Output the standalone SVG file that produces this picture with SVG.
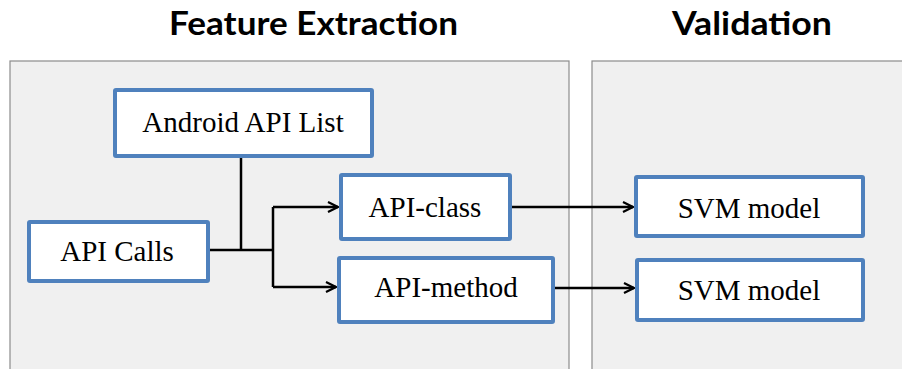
<svg xmlns="http://www.w3.org/2000/svg" width="902" height="369" viewBox="0 0 902 369">
  <style>
    .panel { fill: #f0f0f0; stroke: #8c8c8c; stroke-width: 1.2; }
    .title { font-family: Lato, "Liberation Sans", sans-serif; font-weight: bold; font-size: 32px; fill: #000; }
    .box { fill: #ffffff; stroke: #4f81bd; stroke-width: 4; }
    .label { font-family: "Liberation Serif", "Times New Roman", Times, serif; font-size: 29px; fill: #000; text-anchor: middle; }
    .wire { fill: none; stroke: #000; stroke-width: 2.5; }
  </style>
  <defs>
    <marker id="arrow" viewBox="0 0 12 12" refX="11" refY="6" markerWidth="12" markerHeight="12" markerUnits="userSpaceOnUse" orient="auto">
      <path d="M1,1 L11,6 L1,11" fill="none" stroke="#000" stroke-width="2.2" stroke-linejoin="miter"/>
    </marker>
  </defs>

  <rect width="902" height="369" fill="#ffffff"/>

  <!-- stage panels -->
  <g id="panel-feature">
    <rect class="panel" x="10" y="61" width="559" height="320"/>
    <text class="title" x="169" y="35" textLength="289" lengthAdjust="spacingAndGlyphs">Feature Extraction</text>
  </g>
  <g id="panel-validation">
    <rect class="panel" x="592" y="61" width="320" height="320"/>
    <text class="title" x="672" y="35" textLength="160" lengthAdjust="spacingAndGlyphs">Validation</text>
  </g>

  <!-- connectors -->
  <g id="connectors">
    <path class="wire" d="M241,156 V250"/>
    <path class="wire" d="M208,250 H273"/>
    <path class="wire" d="M273,207 V287"/>
    <path class="wire" d="M273,207 H338" marker-end="url(#arrow)"/>
    <path class="wire" d="M273,287 H336" marker-end="url(#arrow)"/>
    <path class="wire" d="M510,207 H633" marker-end="url(#arrow)"/>
    <path class="wire" d="M553,288 H634" marker-end="url(#arrow)"/>
  </g>

  <!-- nodes -->
  <g id="android-api-list">
    <rect class="box" x="115" y="90" width="257" height="66" rx="1"/>
    <text class="label" x="243" y="132">Android API List</text>
  </g>
  <g id="api-calls">
    <rect class="box" x="29" y="222" width="179" height="59" rx="1"/>
    <text class="label" x="117" y="261">API Calls</text>
  </g>
  <g id="api-class">
    <rect class="box" x="341" y="175" width="169" height="64" rx="1"/>
    <text class="label" x="425" y="217">API-class</text>
  </g>
  <g id="api-method">
    <rect class="box" x="339" y="258" width="214" height="64" rx="1"/>
    <text class="label" x="446" y="297">API-method</text>
  </g>
  <g id="svm-model-1">
    <rect class="box" x="636" y="177" width="227" height="59" rx="1"/>
    <text class="label" x="749" y="218">SVM model</text>
  </g>
  <g id="svm-model-2">
    <rect class="box" x="637" y="260" width="226" height="60" rx="1"/>
    <text class="label" x="749" y="300">SVM model</text>
  </g>
</svg>
